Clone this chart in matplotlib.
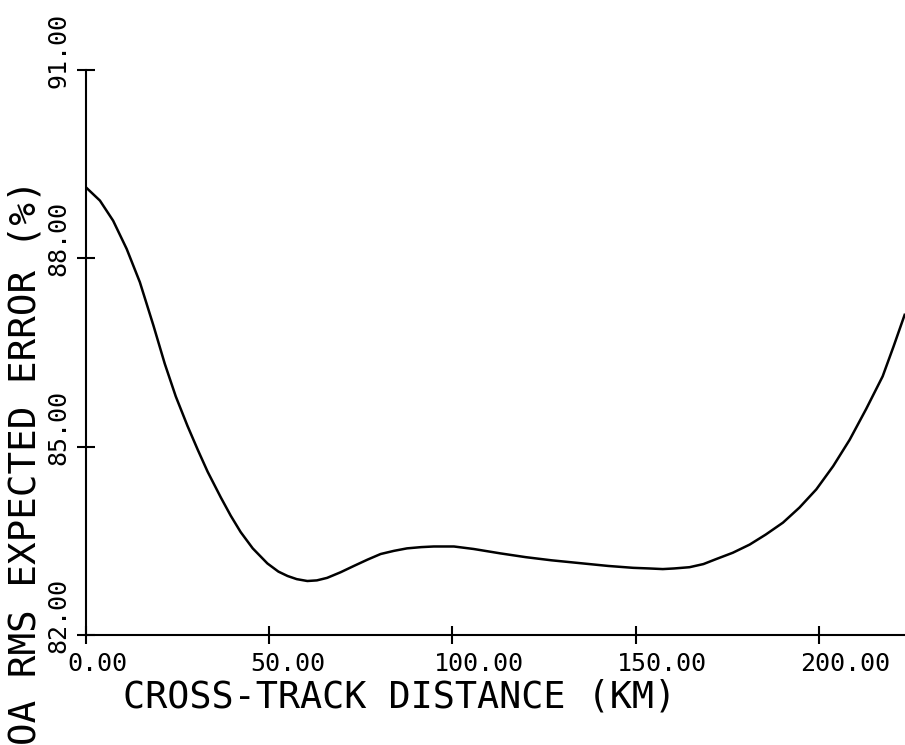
# Recreate an old pen-plotter style line chart of RMS expected error vs cross-track distance
import matplotlib
matplotlib.use("Agg")
import matplotlib.pyplot as plt
from matplotlib.transforms import offset_copy

# Values
distance_km = [0, 3.8, 7.4, 11.1, 14.7, 18.4, 21.5, 24.5, 27.7, 30.5, 33.2, 36.8, 39.5,
               42.2, 45.5, 49.5, 52.5, 55, 57.5, 60.4, 63, 65.8, 69.5, 73.1, 76.8, 80.4,
               84, 87.6, 91.5, 94.9, 100.4, 105.8, 113.1, 120, 127, 135.6, 142.5, 149.3,
               153.7, 157.4, 160.5, 164.7, 168.5, 172, 176.5, 181.1, 185.5, 190.2, 194.7,
               199.3, 203.9, 208.4, 212.9, 217.4, 220.4, 223.4]
rms_error = [89.13, 88.92, 88.60, 88.15, 87.62, 86.93, 86.32, 85.80, 85.33, 84.95, 84.60,
             84.19, 83.90, 83.64, 83.38, 83.14, 83.01, 82.94, 82.89, 82.86, 82.87, 82.91,
             83.00, 83.10, 83.20, 83.29, 83.34, 83.38, 83.40, 83.41, 83.41, 83.37, 83.30,
             83.24, 83.19, 83.14, 83.10, 83.07, 83.06, 83.05, 83.06, 83.08, 83.13, 83.21,
             83.31, 83.44, 83.60, 83.79, 84.03, 84.32, 84.69, 85.11, 85.60, 86.12, 86.60,
             87.10]

x_ticks = [0, 50, 100, 150, 200]
x_tick_labels = ["0.00", "50.00", "100.00", "150.00", "200.00"]
y_ticks = [82, 85, 88, 91]
y_tick_labels = ["82.00", "85.00", "88.00", "91.00"]

mono = "DejaVu Sans Mono"

# figure is 905x745 px; axes placed to match the reference pixel positions
fig = plt.figure(figsize=(9.05, 7.45), dpi=100)
ax = fig.add_axes([86 / 905, 1 - 635 / 745, 1 - 86 / 905, (635 - 70) / 745])

ax.plot(distance_km, rms_error, color="black", linewidth=1.8)

ax.set_xlim(0, 223.5)
ax.set_ylim(82, 91)

# only the left and bottom axis lines, ticks crossing them
for side in ["top", "right"]:
    ax.spines[side].set_visible(False)
for side in ["left", "bottom"]:
    ax.spines[side].set_linewidth(1.5)
ax.tick_params(direction="inout", length=13, width=1.5)
ax.set_xticks(x_ticks)
ax.set_yticks(y_ticks)
ax.set_xticklabels([])
ax.set_yticklabels([])

# tick labels start a little before the tick, like the plotter did
for xv, lab in zip(x_ticks, x_tick_labels):
    ax.text(xv, 0, lab, transform=offset_copy(ax.get_xaxis_transform(), fig, x=-19, y=-17, units="dots"),
            ha="left", va="top", fontsize=18, family=mono, clip_on=False)
for yv, lab in zip(y_ticks, y_tick_labels):
    ax.text(0, yv, lab, transform=offset_copy(ax.get_yaxis_transform(), fig, x=-28, y=-18, units="dots"),
            ha="center", va="bottom", rotation=90, fontsize=18, family=mono, clip_on=False)

# axis titles
fig.text(123 / 905, 1 - 697 / 745, "CROSS-TRACK DISTANCE (KM)", ha="left", va="center",
         fontsize=26.5, family=mono)
fig.text(26 / 905, 0.0, "OA RMS EXPECTED ERROR (%)", ha="center", va="bottom",
         rotation=90, fontsize=27, family=mono)

fig.savefig("out.png", dpi=100)
